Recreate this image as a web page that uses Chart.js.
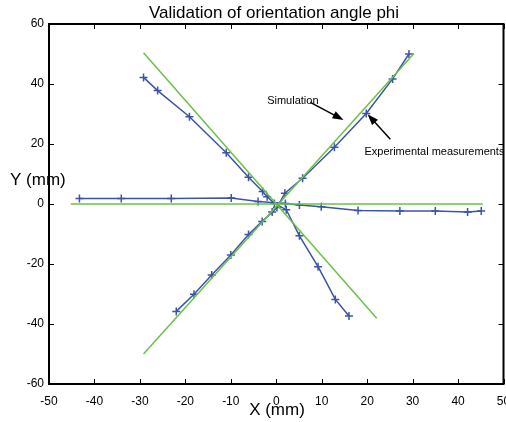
<!DOCTYPE html>
<html>
<head>
<meta charset="utf-8">
<script src="https://cdn.jsdelivr.net/npm/chart.js@4/dist/chart.umd.min.js"></script>
<style>
  html, body { margin: 0; padding: 0; background: #fff; overflow: hidden; }
  canvas { display: block; }
</style>
</head>
<body>
<!-- a little wider than the window: Chart.js keeps ~5px on the right for the last tick label -->
<canvas id="chart" width="509" height="422"></canvas>
<script>
// Experimental measurements (blue, + markers)
const expHorizX = [-43.3, -34.1, -23.1, -9.9, -4.0, 2.0, 5.1, 9.9, 18.0, 27.2, 35.0, 42.1, 45.1];
const expHorizY = [1.8, 1.8, 1.8, 2.0, 0.8, 0.2, -0.3, -0.9, -2.2, -2.3, -2.3, -2.7, -2.3];

const expRiseX = [29.2, 25.6, 19.8, 12.8, 5.8, 1.9, 0.15, -0.9, -3.1, -6.1, -10.0, -14.2, -18.1, -22.0];
const expRiseY = [50.0, 41.7, 30.2, 18.9, 8.6, 3.6, -1.2, -2.7, -5.8, -10.2, -17.0, -23.7, -30.1, -35.8];

const expFallX = [-29.2, -26.1, -19.1, -11.0, -6.1, -3.0, -2.0, -0.4, 2.2, 5.1, 9.2, 13.0, 16.0];
const expFallY = [42.2, 37.8, 29.1, 17.1, 8.9, 4.2, 2.4, 0.2, -1.9, -10.6, -20.9, -31.8, -37.3];

// Simulation (green lines)
const simHorizX = [-45.2, 45.4];
const simHorizY = [0, 0];
const simRiseX = [-29.2, 30.3];
const simRiseY = [-50.0, 50.2];
const simFallX = [-29.2, 22.1];
const simFallY = [50.4, -38.1];

const xTicks = [-50, -40, -30, -20, -10, 0, 10, 20, 30, 40, 50];
const yTicks = [-60, -40, -20, 0, 20, 40, 60];

const titleText = "Validation of orientation angle phi";
const xLabel = "X (mm)";
const yLabel = "Y (mm)";

const BLUE = "#3a55a6";
const GREEN = "#6cc04a";
const FONT = "'Liberation Sans', Arial, sans-serif";

function pairs(xs, ys) {
  return xs.map((x, i) => ({ x: x, y: ys[i] }));
}

function simSet(xs, ys) {
  return {
    data: pairs(xs, ys),
    showLine: true,
    borderColor: GREEN,
    borderWidth: 1.5,
    pointRadius: 0,
    fill: false,
  };
}

function expSet(xs, ys) {
  return {
    data: pairs(xs, ys),
    showLine: true,
    borderColor: BLUE,
    backgroundColor: BLUE,
    borderWidth: 1.5,
    pointStyle: "cross",
    pointRadius: 4,
    pointBorderWidth: 1.5,
    pointBorderColor: BLUE,
    fill: false,
  };
}

function arrow(ctx, x1, y1, x2, y2) {
  const ang = Math.atan2(y2 - y1, x2 - x1);
  const len = 11, half = 4;
  ctx.beginPath();
  ctx.moveTo(x1, y1);
  ctx.lineTo(x2 - Math.cos(ang) * len * 0.8, y2 - Math.sin(ang) * len * 0.8);
  ctx.stroke();
  ctx.beginPath();
  ctx.moveTo(x2, y2);
  ctx.lineTo(x2 - Math.cos(ang) * len + Math.sin(ang) * half, y2 - Math.sin(ang) * len - Math.cos(ang) * half);
  ctx.lineTo(x2 - Math.cos(ang) * len - Math.sin(ang) * half, y2 - Math.sin(ang) * len + Math.cos(ang) * half);
  ctx.closePath();
  ctx.fill();
}

// frame, inward ticks, titles and annotations
const decorations = {
  id: "decorations",
  afterDraw(chart) {
    const ctx = chart.ctx;
    const a = chart.chartArea;
    const xs = chart.scales.x, ys = chart.scales.y;
    ctx.save();
    ctx.strokeStyle = "#000";
    ctx.fillStyle = "#000";

    ctx.lineWidth = 1;
    xTicks.forEach((v) => {
      const px = Math.round(xs.getPixelForValue(v)) + 0.5;
      ctx.beginPath();
      ctx.moveTo(px, a.bottom); ctx.lineTo(px, a.bottom - 5);
      ctx.moveTo(px, a.top); ctx.lineTo(px, a.top + 5);
      ctx.stroke();
    });
    yTicks.forEach((v) => {
      const py = Math.round(ys.getPixelForValue(v)) + 0.5;
      ctx.beginPath();
      ctx.moveTo(a.left, py); ctx.lineTo(a.left + 5, py);
      ctx.moveTo(a.right, py); ctx.lineTo(a.right - 5, py);
      ctx.stroke();
    });

    ctx.lineWidth = 2;
    ctx.strokeRect(a.left, a.top, a.right - a.left, a.bottom - a.top);

    ctx.textBaseline = "middle";
    ctx.textAlign = "center";
    ctx.font = "17px " + FONT;
    ctx.fillText(titleText, 274, 13);
    ctx.fillText(xLabel, 277, 410);
    ctx.textAlign = "left";
    ctx.fillText(yLabel, 10, 180);

    // annotations
    ctx.font = "11px " + FONT;
    ctx.fillText("Simulation", xs.getPixelForValue(-2.0), ys.getPixelForValue(34.4));
    ctx.fillText("Experimental measurements", xs.getPixelForValue(19.4), ys.getPixelForValue(17.4));
    ctx.lineWidth = 1.5;
    arrow(ctx, xs.getPixelForValue(7.5), ys.getPixelForValue(33.9), xs.getPixelForValue(14.8), ys.getPixelForValue(28.0));
    arrow(ctx, xs.getPixelForValue(25.1), ys.getPixelForValue(21.6), xs.getPixelForValue(20.1), ys.getPixelForValue(29.9));
    ctx.restore();
  },
};

new Chart(document.getElementById("chart"), {
  type: "scatter",
  data: {
    datasets: [
      simSet(simHorizX, simHorizY),
      simSet(simRiseX, simRiseY),
      simSet(simFallX, simFallY),
      expSet(expHorizX, expHorizY),
      expSet(expRiseX, expRiseY),
      expSet(expFallX, expFallY),
    ],
  },
  options: {
    responsive: false,
    animation: false,
    layout: { padding: { top: 24, right: 0, left: 0, bottom: 0 } },
    plugins: {
      legend: { display: false },
      tooltip: { enabled: false },
      title: { display: false },
    },
    scales: {
      x: {
        type: "linear",
        min: -50,
        max: 50,
        afterBuildTicks: (s) => { s.ticks = xTicks.map((v) => ({ value: v })); },
        afterFit: (s) => { s.height = 38; s.paddingLeft = 0; s.paddingRight = 0; },
        grid: { display: false, drawTicks: false },
        border: { display: false },
        ticks: { autoSkip: false, maxRotation: 0, padding: 10, color: "#000", font: { family: FONT, size: 12 } },
      },
      y: {
        type: "linear",
        min: -60,
        max: 60,
        afterBuildTicks: (s) => { s.ticks = yTicks.map((v) => ({ value: v })); },
        afterFit: (s) => { s.width = 49; s.paddingTop = 0; s.paddingBottom = 0; },
        grid: { display: false, drawTicks: false },
        border: { display: false },
        ticks: { autoSkip: false, padding: 5, color: "#000", font: { family: FONT, size: 12 } },
      },
    },
  },
  plugins: [decorations],
});
</script>
</body>
</html>
